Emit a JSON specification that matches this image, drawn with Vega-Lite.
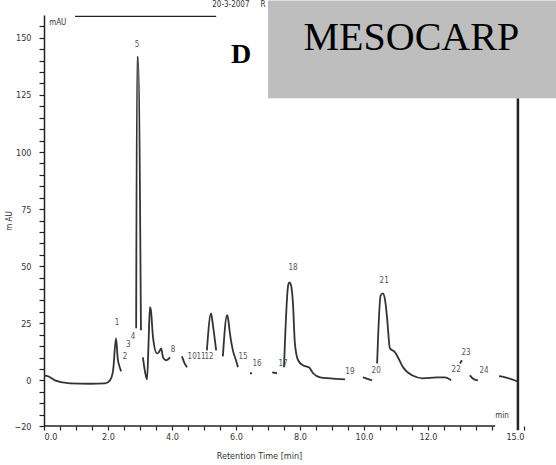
{
  "$schema": "https://vega.github.io/schema/vega-lite/v6.json",
  "autosize": {"type": "none"},
  "padding": {"left": 44, "top": 15, "right": 32, "bottom": 39},
  "width": 480,
  "height": 411,
  "background": "white",
  "config": {"view": {"stroke": null}},
  "encoding": {
    "x": {
      "field": "t", "type": "quantitative",
      "scale": {"domain": [0, 15], "nice": false, "zero": false},
      "axis": {
        "title": "Retention Time [min]",
        "titleFont": "DejaVu Sans Condensed, Liberation Sans, sans-serif", "titleFontSize": 9, "titleFontWeight": "normal", "titleColor": "#333333",
        "titleX": 215, "titleY": 25,
        "values": [0,0.5,1,1.5,2,2.5,3,3.5,4,4.5,5,5.5,6,6.5,7,7.5,8,8.5,9,9.5,10,10.5,11,11.5,12,12.5,13,13.5,14,15],
        "labelExpr": "((datum.value % 2 == 0) && datum.value <= 12) || datum.value == 15 ? format(datum.value, '.1f') : ''",
        "labelFont": "DejaVu Sans Condensed, Liberation Sans, sans-serif", "labelFontSize": 9, "labelColor": "#333333", "labelDx": -3,
        "domain": false, "grid": false, "tickSize": 4, "tickColor": "#222222", "tickWidth": 1.2, "labelPadding": 2
      }
    },
    "y": {
      "field": "v", "type": "quantitative",
      "scale": {"domain": [-20, 160], "nice": false, "zero": false},
      "axis": {
        "title": "m AU",
        "titleFont": "DejaVu Sans Condensed, Liberation Sans, sans-serif", "titleFontSize": 8, "titleFontWeight": "normal", "titleColor": "#333333", "titlePadding": 0,
        "values": [-20,-15,-10,-5,0,5,10,15,20,25,30,35,40,45,50,55,60,65,70,75,80,85,90,95,100,105,110,115,120,125,130,135,140,145,150,155],
        "labelExpr": "datum.value == -20 || datum.value % 25 == 0 ? format(datum.value, 'd') : ''",
        "labelFont": "DejaVu Sans Condensed, Liberation Sans, sans-serif", "labelFontSize": 9, "labelColor": "#333333",
        "domain": true, "domainColor": "#222222", "domainWidth": 1.5, "grid": false, "tickSize": 5, "tickColor": "#222222", "tickWidth": 1.2, "labelPadding": 8
      }
    }
  },
  "layer": [
    {
      "data": {"values": [
        {"t": 0, "v": 2.2, "seg": "A"}, {"t": 0.13, "v": 1.8, "seg": "A"}, {"t": 0.34, "v": 0, "seg": "A"}, {"t": 0.81, "v": -1.3, "seg": "A"}, {"t": 1.44, "v": -1.5, "seg": "A"}, {"t": 1.91, "v": -1.3, "seg": "A"}, {"t": 2.06, "v": 0, "seg": "A"}, {"t": 2.16, "v": 4.4, "seg": "A"}, {"t": 2.25, "v": 18.4, "seg": "A"}, {"t": 2.31, "v": 8.8, "seg": "A"}, {"t": 2.34, "v": 7, "seg": "A"}, {"t": 2.41, "v": 3.9, "seg": "A"},
        {"t": 2.88, "v": 22.8, "seg": "B"}, {"t": 2.91, "v": 141.5, "seg": "B"}, {"t": 2.94, "v": 141.5, "seg": "B"}, {"t": 3.03, "v": 21.9, "seg": "B"},
        {"t": 3.09, "v": 10.1, "seg": "C"}, {"t": 3.16, "v": 3.5, "seg": "C"}, {"t": 3.22, "v": 0.4, "seg": "C"}, {"t": 3.27, "v": 17.5, "seg": "C"}, {"t": 3.31, "v": 32, "seg": "C"}, {"t": 3.34, "v": 30.7, "seg": "C"}, {"t": 3.41, "v": 18.4, "seg": "C"}, {"t": 3.53, "v": 11.8, "seg": "C"}, {"t": 3.59, "v": 12.3, "seg": "C"}, {"t": 3.66, "v": 14, "seg": "C"}, {"t": 3.72, "v": 10.1, "seg": "C"}, {"t": 3.81, "v": 8.8, "seg": "C"}, {"t": 3.94, "v": 10.1, "seg": "C"},
        {"t": 4.31, "v": 10.5, "seg": "D"}, {"t": 4.38, "v": 7.9, "seg": "D"}, {"t": 4.47, "v": 5.7, "seg": "D"},
        {"t": 5.09, "v": 13.1, "seg": "E"}, {"t": 5.22, "v": 29.3, "seg": "E"}, {"t": 5.28, "v": 24.1, "seg": "E"}, {"t": 5.38, "v": 13.1, "seg": "E"},
        {"t": 5.59, "v": 10.5, "seg": "F"}, {"t": 5.72, "v": 28.5, "seg": "F"}, {"t": 5.75, "v": 27.2, "seg": "F"}, {"t": 5.81, "v": 20.6, "seg": "F"}, {"t": 5.91, "v": 12.7, "seg": "F"}, {"t": 6.0, "v": 8.8, "seg": "F"}, {"t": 6.06, "v": 5.7, "seg": "F"},
        {"t": 6.44, "v": 3.1, "seg": "G"}, {"t": 6.5, "v": 3.1, "seg": "G"},
        {"t": 7.13, "v": 3.5, "seg": "H"}, {"t": 7.28, "v": 3.1, "seg": "H"},
        {"t": 7.5, "v": 5.7, "seg": "I"}, {"t": 7.63, "v": 41.6, "seg": "I"}, {"t": 7.67, "v": 42.9, "seg": "I"}, {"t": 7.72, "v": 41.6, "seg": "I"}, {"t": 7.78, "v": 33.7, "seg": "I"}, {"t": 7.84, "v": 16.2, "seg": "I"}, {"t": 7.94, "v": 8.8, "seg": "I"}, {"t": 8.09, "v": 6.6, "seg": "I"}, {"t": 8.28, "v": 5.7, "seg": "I"}, {"t": 8.41, "v": 3.1, "seg": "I"}, {"t": 8.63, "v": 1.3, "seg": "I"}, {"t": 8.94, "v": 0.9, "seg": "I"}, {"t": 9.41, "v": 0.4, "seg": "I"},
        {"t": 9.97, "v": 1.3, "seg": "J"}, {"t": 10.25, "v": 0, "seg": "J"},
        {"t": 10.41, "v": 7.4, "seg": "K"}, {"t": 10.52, "v": 37.2, "seg": "K"}, {"t": 10.59, "v": 38.1, "seg": "K"}, {"t": 10.66, "v": 35, "seg": "K"}, {"t": 10.72, "v": 27.6, "seg": "K"}, {"t": 10.81, "v": 14, "seg": "K"}, {"t": 10.97, "v": 12.3, "seg": "K"}, {"t": 11.06, "v": 10.1, "seg": "K"}, {"t": 11.22, "v": 5.7, "seg": "K"}, {"t": 11.5, "v": 2.2, "seg": "K"}, {"t": 11.84, "v": 0.9, "seg": "K"}, {"t": 12.28, "v": 1.3, "seg": "K"}, {"t": 12.53, "v": 1.3, "seg": "K"}, {"t": 12.72, "v": 0, "seg": "K"},
        {"t": 13.0, "v": 7.4, "seg": "L"}, {"t": 13.06, "v": 8.8, "seg": "L"},
        {"t": 13.31, "v": 2.2, "seg": "M"}, {"t": 13.44, "v": 0.4, "seg": "M"}, {"t": 13.56, "v": 0, "seg": "M"},
        {"t": 14.22, "v": 1.8, "seg": "N"}, {"t": 14.41, "v": 1.3, "seg": "N"}, {"t": 14.78, "v": -0.4, "seg": "N"}
      ]},
      "mark": {"type": "line", "color": "#333333", "strokeWidth": 1.8, "interpolate": "monotone"},
      "encoding": {
        "detail": {"field": "seg", "type": "nominal"}
      }
    },
    {
      "data": {"values": [
        {"t": 2.28, "v": 25, "label": "1"}, {"t": 2.53, "v": 10.1, "label": "2"}, {"t": 2.63, "v": 15.3, "label": "3"}, {"t": 2.78, "v": 18.8, "label": "4"}, {"t": 2.91, "v": 146.7, "label": "5"},
        {"t": 4.03, "v": 13.1, "label": "8"}, {"t": 4.63, "v": 10.1, "label": "10"}, {"t": 4.91, "v": 10.1, "label": "11"}, {"t": 5.16, "v": 10.1, "label": "12"},
        {"t": 6.22, "v": 10.1, "label": "15"}, {"t": 6.66, "v": 7, "label": "16"}, {"t": 7.47, "v": 7, "label": "17"}, {"t": 7.78, "v": 49, "label": "18"},
        {"t": 9.56, "v": 3.5, "label": "19"}, {"t": 10.38, "v": 3.9, "label": "20"}, {"t": 10.63, "v": 43.4, "label": "21"}, {"t": 12.88, "v": 4.4, "label": "22"}, {"t": 13.19, "v": 11.8, "label": "23"}, {"t": 13.75, "v": 3.9, "label": "24"}
      ]},
      "mark": {"type": "text", "font": "DejaVu Sans Condensed, Liberation Sans, sans-serif", "fontSize": 8, "color": "#555555", "baseline": "middle", "align": "center"},
      "encoding": {
        "text": {"field": "label"}
      }
    },
    {
      "data": {"values": [{"t": 0, "t2": 14.1, "v": -20}]},
      "mark": {"type": "rule", "color": "#222222", "strokeWidth": 1.5},
      "encoding": {
        "x2": {"field": "t2"}
      }
    },
    {
      "data": {"values": [{"t": 0.97, "t2": 5.38, "v": 159.4}]},
      "mark": {"type": "rule", "color": "#222222", "strokeWidth": 1.2},
      "encoding": {
        "x2": {"field": "t2"}
      }
    },
    {
      "data": {"values": [{"t": 14.81, "v": 123.5, "v2": -21.9}]},
      "mark": {"type": "rule", "color": "#222222", "strokeWidth": 2.5},
      "encoding": {
        "y2": {"field": "v2"}
      }
    },
    {
      "data": {"values": [
        {"t": 0.43, "v": 156.5, "label": "mAU"},
        {"t": 5.84, "v": 164.3, "label": "20-3-2007"},
        {"t": 6.84, "v": 164.3, "label": "R"},
        {"t": 14.31, "v": -15.8, "label": "min"}
      ]},
      "mark": {"type": "text", "font": "DejaVu Sans Condensed, Liberation Sans, sans-serif", "fontSize": 8, "color": "#333333", "baseline": "middle", "align": "center"},
      "encoding": {
        "text": {"field": "label"}
      }
    },
    {
      "data": {"values": [{"t": 7.0, "t2": 16.0, "v": 166.4, "v2": 123.5}]},
      "mark": {"type": "rect", "color": "#bebebe"},
      "encoding": {
        "x2": {"field": "t2"},
        "y2": {"field": "v2"}
      }
    },
    {
      "data": {"values": [{"t": 11.48, "v": 144.5, "label": "MESOCARP"}]},
      "mark": {"type": "text", "font": "Liberation Serif", "fontSize": 40, "color": "#000000", "baseline": "alphabetic", "align": "center"},
      "encoding": {
        "text": {"field": "label"}
      }
    },
    {
      "data": {"values": [{"t": 6.16, "v": 138.9, "label": "D"}]},
      "mark": {"type": "text", "font": "Liberation Serif", "fontSize": 28, "fontWeight": "bold", "color": "#000000", "baseline": "alphabetic", "align": "center"},
      "encoding": {
        "text": {"field": "label"}
      }
    }
  ]
}
